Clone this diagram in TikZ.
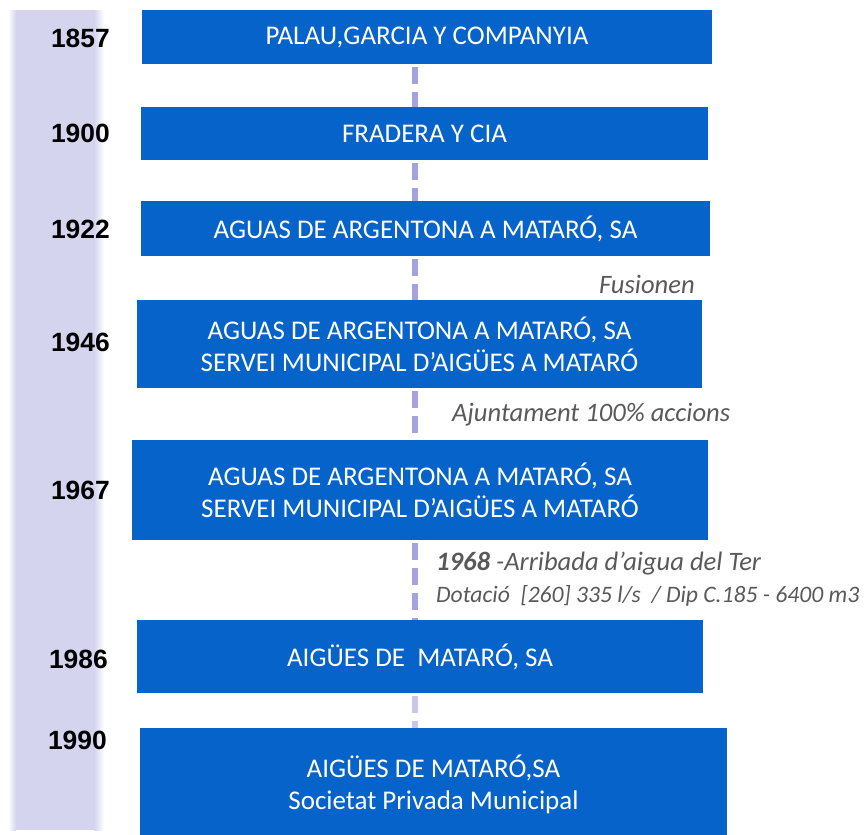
\documentclass[tikz,border=0pt]{standalone}
\usepackage{fontspec}
\setmainfont{Carlito}
\newfontfamily\yearfont{Liberation Sans}
\definecolor{boxblue}{RGB}{6,99,201}
\definecolor{barlav}{RGB}{212,212,239}
\definecolor{dashlav}{RGB}{165,162,224}
\definecolor{notegrey}{RGB}{89,89,89}
\tikzset{
  cobox/.style={fill=boxblue, draw=none, inner sep=0pt, text=white, align=center,
    font=\fontsize{27}{32}\selectfont},
  yearlbl/.style={anchor=east, inner sep=0pt, font=\yearfont\bfseries\fontsize{26.4}{30}\selectfont},
  note/.style={inner sep=0pt, text=notegrey, font=\itshape\fontsize{26.6}{30}\selectfont},
  link/.style={draw=dashlav, line width=6pt, dash pattern=on 17pt off 8pt, dash phase=22pt}
}
\begin{document}
\begin{tikzpicture}[x=1pt,y=-1pt]
\useasboundingbox (0,0) rectangle (865,835);
% timeline bar with soft edges
\fill[barlav] (16,10) rectangle (94,830);
\shade[left color=white, right color=barlav] (8,10) rectangle (16,830);
\shade[left color=barlav, right color=white] (94,10) rectangle (104,830);
% boxes
\node[cobox, minimum width=570, minimum height=54] (b1) at (427,37) {PALAU,GARCIA Y COMPANYIA};
\node[cobox, minimum width=567, minimum height=53] (b2) at (424.5,133.5) {FRADERA Y CIA};
\node[cobox, minimum width=569, minimum height=55] (b3) at (425.5,228.5) {AGUAS DE ARGENTONA A MATARÓ, SA};
\node[cobox, minimum width=565, minimum height=88] (b4) at (419.5,344) {AGUAS DE ARGENTONA A MATARÓ, SA\\SERVEI MUNICIPAL D’AIGÜES A MATARÓ};
\node[cobox, minimum width=576, minimum height=100] (b5) at (420,490) {AGUAS DE ARGENTONA A MATARÓ, SA\\SERVEI MUNICIPAL D’AIGÜES A MATARÓ};
\node[cobox, minimum width=566, minimum height=73] (b6) at (420,656.5) {AIGÜES DE\ \ MATARÓ, SA};
\node[cobox, minimum width=587, minimum height=112] (b7) at (433.5,784) {AIGÜES DE MATARÓ,SA\\Societat Privada Municipal};
% connectors
\coordinate (lx) at (415,0);
\draw[link] (b1.south -| lx) -- (b2.north -| lx);
\draw[link] (b2.south -| lx) -- (b3.north -| lx);
\draw[link] (b3.south -| lx) -- (b4.north -| lx);
\draw[link] (b4.south -| lx) -- (b5.north -| lx);
\draw[link] (b5.south -| lx) -- (b6.north -| lx);
\draw[link, draw opacity=0.6] (b6.south -| lx) -- (b7.north -| lx);
% years
\node[yearlbl] (y1) at (110,38) {1857};
\node[yearlbl] (y2) at (110,133) {1900};
\node[yearlbl] (y3) at (110,229) {1922};
\node[yearlbl] (y4) at (110,342) {1946};
\node[yearlbl] (y5) at (110,490) {1967};
\node[yearlbl] (y6) at (108,659) {1986};
\node[yearlbl] (y7) at (107,740) {1990};
% notes
\node[note, anchor=east] (n1) at (695,284) {Fusionen};
\node[note, anchor=west] (n2) at (452,415) {Ajuntament 100\% accions};
\node[note, anchor=west] (n3) at (436,564) {\textbf{1968} -Arribada d’aigua del Ter};
\node[note, anchor=west, font=\itshape\fontsize{23.6}{28}\selectfont] (n4) at (436,596) {Dotació\ \ [260] 335 l/s\ \ / Dip C.185 - 6400 m3};
\end{tikzpicture}
\end{document}
